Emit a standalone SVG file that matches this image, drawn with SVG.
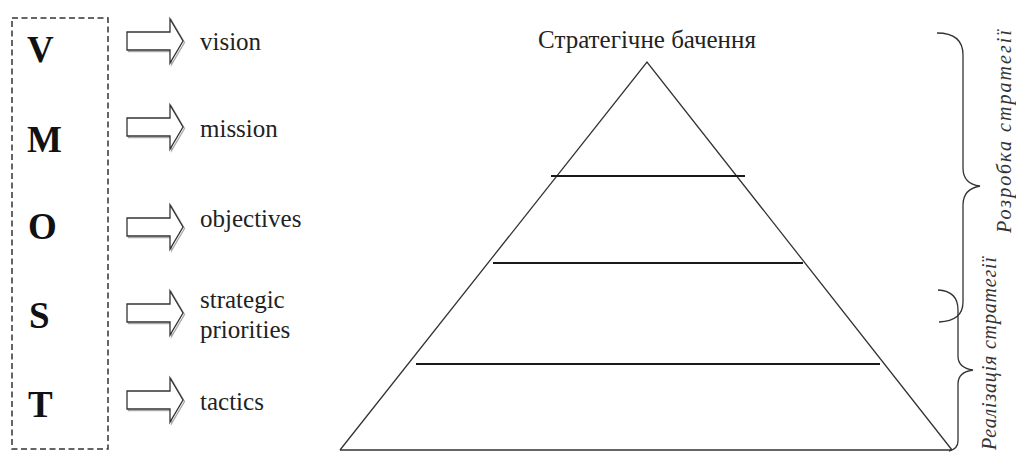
<svg xmlns="http://www.w3.org/2000/svg" width="1016" height="453" viewBox="0 0 1016 453" font-family="'Liberation Serif', 'Times New Roman', Times, serif">
  <style>
    text { font-family: 'Liberation Serif', 'Times New Roman', Times, serif; }
    .letter { font-weight: bold; font-size: 37px; fill: #111; }
    .label { font-size: 25px; fill: #222; }
    .side { font-style: italic; font-size: 20px; fill: #333; }
    .edge { fill: none; stroke: #333; stroke-width: 1.3; }
    .tier { fill: none; stroke: #1a1a1a; stroke-width: 2; }
    .brace { fill: none; stroke: #333; stroke-width: 1.3; }
    .blk { fill: #fff; stroke: #333; stroke-width: 1.3; stroke-linejoin: miter; }
    .blk-shadow { fill: none; stroke: #aaa; stroke-width: 1.3; }
  </style>
  <defs>
    <!-- hollow block arrow, centred on y = 0 -->
    <g id="blockArrow">
      <polygon class="blk-shadow" points="128.5,-7.5 171.5,-7.5 171.5,-20.5 184.5,1.5 171.5,23.5 171.5,10.5 128.5,10.5"/>
      <polygon class="blk" points="127,-9 170,-9 170,-22 183,0 170,22 170,9 127,9"/>
    </g>
  </defs>
  <rect width="1016" height="453" fill="#fff"/>

  <!-- VMOST column -->
  <g id="vmost">
    <rect x="12" y="18" width="96" height="431" fill="none" stroke="#333" stroke-width="1.5" stroke-dasharray="6 3.5"/>
    <text class="letter" x="27" y="62">V</text>
    <text class="letter" x="27" y="152">M</text>
    <text class="letter" x="28" y="239">O</text>
    <text class="letter" x="29" y="328">S</text>
    <text class="letter" x="28" y="417">T</text>
  </g>

  <g id="connectors">
    <use href="#blockArrow" transform="translate(0,41)"/>
    <use href="#blockArrow" transform="translate(0,127)"/>
    <use href="#blockArrow" transform="translate(0,227)"/>
    <use href="#blockArrow" transform="translate(0,313)"/>
    <use href="#blockArrow" transform="translate(0,400)"/>
  </g>

  <g id="labels">
    <text class="label" x="200" y="50">vision</text>
    <text class="label" x="200" y="137">mission</text>
    <text class="label" x="200" y="227">objectives</text>
    <text class="label" x="200" y="308">strategic</text>
    <text class="label" x="200" y="338">priorities</text>
    <text class="label" x="200" y="410">tactics</text>
  </g>

  <!-- strategy pyramid -->
  <g id="pyramid">
    <text class="label" x="647" y="48" text-anchor="middle">Стратегічне бачення</text>
    <polyline class="edge" points="340,450 647,62 952,450"/>
    <line class="edge" x1="340" y1="450" x2="952" y2="450"/>
    <line class="tier" x1="551" y1="176" x2="745" y2="176"/>
    <line class="tier" x1="493" y1="263" x2="803" y2="263"/>
    <line class="tier" x1="416" y1="364" x2="880" y2="364"/>
  </g>

  <!-- phase braces -->
  <g id="brace-development">
    <path class="brace" d="M937 33 Q963 33 963 55 L963 168 Q963 184 980 186 Q963 189 963 205 L963 302 Q963 321 939 322"/>
    <text class="side" transform="translate(1011,233) rotate(-90)" textLength="203" lengthAdjust="spacing">Розробка  стратегії</text>
  </g>
  <g id="brace-implementation">
    <path class="brace" d="M938 290 Q958 291 958 310 L958 356 Q958 368 973 370 Q958 372 958 384 L958 441 Q958 449 949 451"/>
    <text class="side" transform="translate(996,450) rotate(-90)" textLength="193" lengthAdjust="spacing">Реалізація  стратегії</text>
  </g>
</svg>
